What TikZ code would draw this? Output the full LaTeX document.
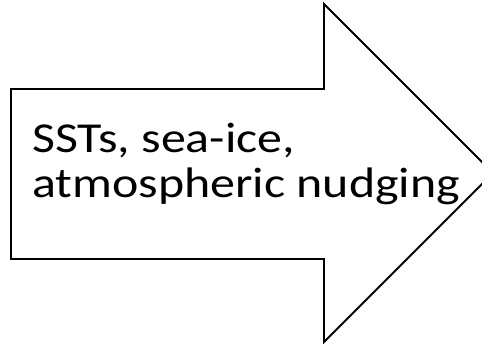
\documentclass[tikz,border=0pt]{standalone}
\usepackage{fontspec}
\setmainfont{Carlito}
\tikzset{
  arrowshape/.style={draw=black, line width=1.4pt, fill=white, line join=miter},
  labeltext/.style={inner sep=0pt, anchor=base west, font=\fontsize{32pt}{34pt}\selectfont}
}
\begin{document}
\begin{tikzpicture}[x=0.75pt,y=-0.75pt]
\useasboundingbox (0,0) rectangle (482,344);
\clip (0,0) rectangle (482,344);
\draw[arrowshape] (11,89) -- (324,89) -- (324,4) -- (493,173) -- (324,342) -- (324,259) -- (11,259) -- cycle;
\node[labeltext] (line1) at (32,152) {\scalebox{1.17}[1]{SSTs, sea-ice,}};
\node[labeltext] (line2) at (32,197) {\scalebox{1.17}[1]{atmospheric nudging}};
\end{tikzpicture}
\end{document}
